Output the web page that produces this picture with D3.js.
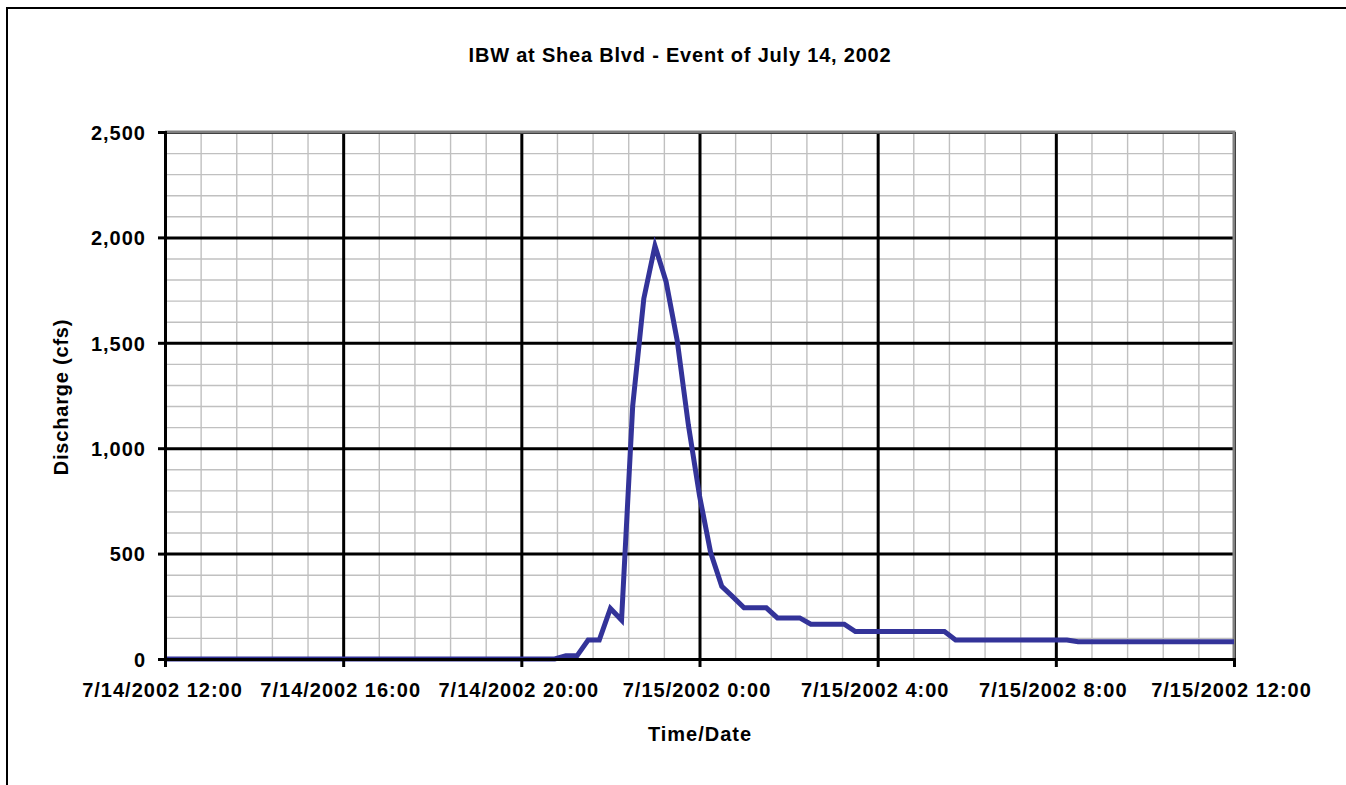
<!DOCTYPE html>
<html>
<head>
<meta charset="utf-8">
<script src="https://cdn.jsdelivr.net/npm/d3@7"></script>
<style>
  body { margin: 0; background: #fff; }
  text { font-family: Arial, "Liberation Sans", sans-serif; font-weight: bold; }
</style>
</head>
<body>
<svg id="chart" width="1346" height="785"></svg>
<script>
// breakpoints of the hydrograph (15 minute readings, flat runs collapsed)
const times = [
    "2002-07-14 12:00", "2002-07-14 20:45", "2002-07-14 21:00", "2002-07-14 21:15",
    "2002-07-14 21:30", "2002-07-14 21:45", "2002-07-14 22:00", "2002-07-14 22:15",
    "2002-07-14 22:30", "2002-07-14 22:45", "2002-07-14 23:00", "2002-07-14 23:15",
    "2002-07-14 23:30", "2002-07-14 23:45", "2002-07-15 00:00", "2002-07-15 00:15",
    "2002-07-15 00:30", "2002-07-15 00:45", "2002-07-15 01:00", "2002-07-15 01:30",
    "2002-07-15 01:45", "2002-07-15 02:15", "2002-07-15 02:30", "2002-07-15 03:15",
    "2002-07-15 03:30", "2002-07-15 05:30", "2002-07-15 05:45", "2002-07-15 08:15",
    "2002-07-15 08:30", "2002-07-15 12:00"
];
const discharge = [
    0, 0, 15, 15,
    90, 90, 240, 185,
    1200, 1710, 1960, 1790,
    1510, 1110, 775, 505,
    345, 295, 243, 243,
    195, 195, 165, 165,
    130, 130, 90, 90,
    82, 82
];

const xMajorTicks = ["2002-07-14 12:00", "2002-07-14 16:00", "2002-07-14 20:00",
    "2002-07-15 00:00", "2002-07-15 04:00", "2002-07-15 08:00", "2002-07-15 12:00"];
const yMajorTicks = [0, 500, 1000, 1500, 2000, 2500];
const xMinorStepMinutes = 48;
const yMinorStep = 100;

const titleText = "IBW at Shea Blvd - Event of July 14, 2002";
const xTitle = "Time/Date";
const yTitle = "Discharge (cfs)";

const parseT = d3.timeParse("%Y-%m-%d %H:%M");
const fmtT = d3.timeFormat("%-m/%-d/%Y %-H:%M");

const margin = {left: 165, top: 132, right: 1234, bottom: 659};

const svg = d3.select("#chart");

// outer chart border
svg.append("rect")
    .attr("x", 7).attr("y", 8)
    .attr("width", 1400).attr("height", 900)
    .attr("fill", "#fff")
    .attr("stroke", "#000")
    .attr("stroke-width", 2);

const x = d3.scaleTime()
    .domain([parseT(xMajorTicks[0]), parseT(xMajorTicks[xMajorTicks.length - 1])])
    .range([margin.left, margin.right]);
const y = d3.scaleLinear()
    .domain([0, 2500])
    .range([margin.bottom, margin.top]);

const plotH = margin.bottom - margin.top;
const plotW = margin.right - margin.left;

// minor grid
const [t0, t1] = x.domain();
const xMinor = [];
for (let t = +t0; t <= +t1; t += xMinorStepMinutes * 60000) xMinor.push(new Date(t));
const yMinor = d3.range(0, 2500 + 1, yMinorStep);

svg.append("g")
    .attr("transform", "translate(0," + margin.bottom + ")")
    .call(d3.axisBottom(x).tickValues(xMinor).tickSize(-plotH).tickFormat(""))
    .call(g => g.select(".domain").remove())
    .selectAll("line").attr("stroke", "#c0c0c0").attr("stroke-width", 1.4);
svg.append("g")
    .attr("transform", "translate(" + margin.left + ",0)")
    .call(d3.axisLeft(y).tickValues(yMinor).tickSize(-plotW).tickFormat(""))
    .call(g => g.select(".domain").remove())
    .selectAll("line").attr("stroke", "#c0c0c0").attr("stroke-width", 1.4);

// major grid
svg.append("g")
    .attr("transform", "translate(0," + margin.bottom + ")")
    .call(d3.axisBottom(x).tickValues(xMajorTicks.map(parseT)).tickSize(-plotH).tickFormat(""))
    .call(g => g.select(".domain").remove())
    .selectAll("line").attr("stroke", "#000").attr("stroke-width", 3);
svg.append("g")
    .attr("transform", "translate(" + margin.left + ",0)")
    .call(d3.axisLeft(y).tickValues(yMajorTicks).tickSize(-plotW).tickFormat(""))
    .call(g => g.select(".domain").remove())
    .selectAll("line").attr("stroke", "#000").attr("stroke-width", 3);

// plot area border (top and right in grey)
svg.append("path")
    .attr("d", `M${margin.left},${margin.top}H${margin.right}V${margin.bottom}`)
    .attr("fill", "none")
    .attr("stroke", "#808080")
    .attr("stroke-width", 3);

// hydrograph
const pts = times.map((t, i) => [parseT(t), discharge[i]]);
svg.append("path")
    .datum(pts)
    .attr("fill", "none")
    .attr("stroke", "#333399")
    .attr("stroke-width", 5)
    .attr("stroke-linejoin", "miter")
    .attr("d", d3.line().x(d => x(d[0])).y(d => y(d[1])));

// axes
const xAxis = svg.append("g")
    .attr("transform", "translate(0," + margin.bottom + ")")
    .call(d3.axisBottom(x).tickValues(xMajorTicks.map(parseT)).tickSize(8).tickPadding(16).tickFormat(fmtT));
const yAxis = svg.append("g")
    .attr("transform", "translate(" + margin.left + ",0)")
    .call(d3.axisLeft(y).tickValues(yMajorTicks).tickSize(7).tickPadding(12).tickFormat(d3.format(",")));

[xAxis, yAxis].forEach(g => {
    g.select(".domain").attr("stroke", "#000").attr("stroke-width", 3);
    g.selectAll(".tick line").attr("stroke", "#000").attr("stroke-width", 3);
    g.selectAll(".tick text")
        .attr("fill", "#000")
        .style("font-size", "20px")
        .style("letter-spacing", "1px");
});
yAxis.selectAll(".tick text").attr("dy", "0.36em");
xAxis.selectAll(".tick text").attr("dx", "-3");

// titles
svg.append("text")
    .attr("x", 680).attr("y", 62)
    .attr("text-anchor", "middle")
    .style("font-size", "20px")
    .style("letter-spacing", "0.8px")
    .text(titleText);
svg.append("text")
    .attr("x", 700).attr("y", 741)
    .attr("text-anchor", "middle")
    .style("font-size", "20px")
    .style("letter-spacing", "1px")
    .text(xTitle);
svg.append("text")
    .attr("transform", "translate(68,397) rotate(-90)")
    .attr("text-anchor", "middle")
    .style("font-size", "20px")
    .style("letter-spacing", "0.8px")
    .text(yTitle);
</script>
</body>
</html>
